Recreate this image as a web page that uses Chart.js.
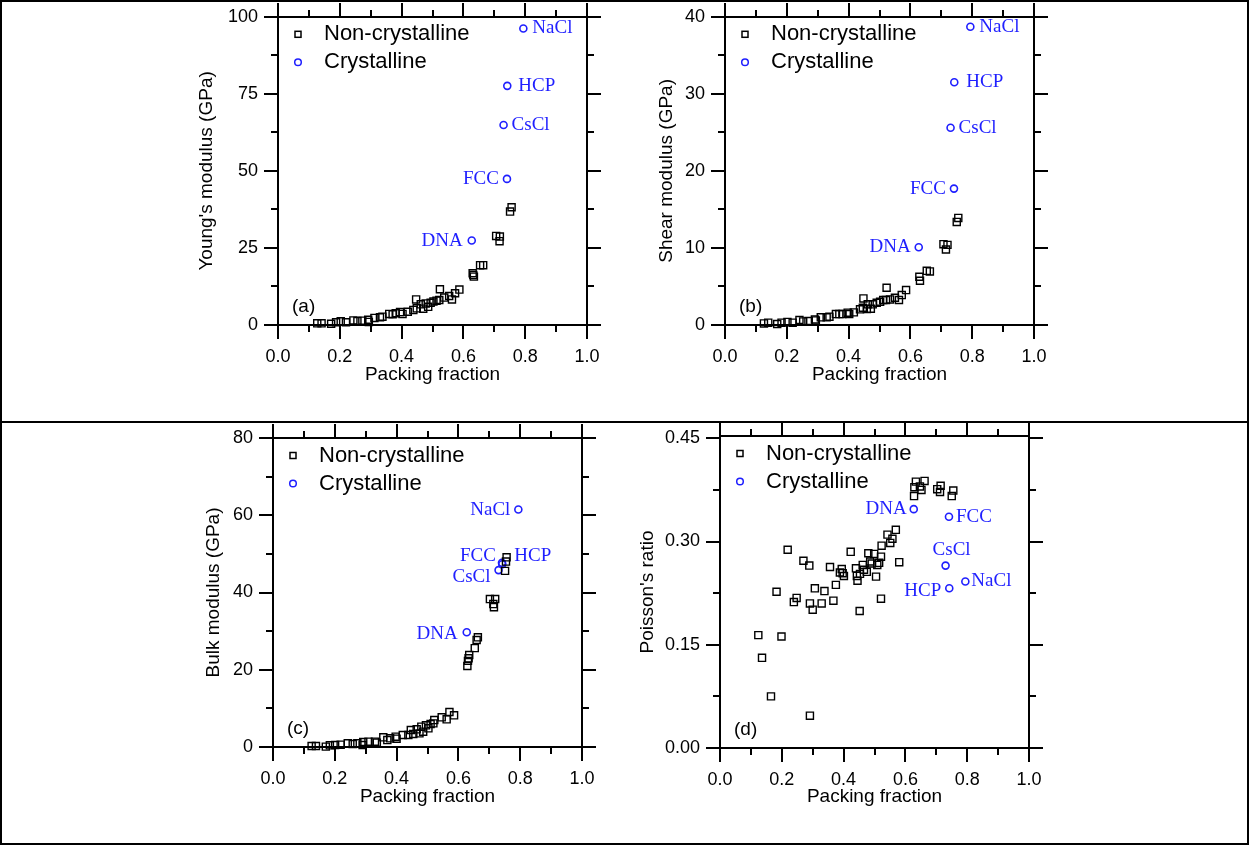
<!DOCTYPE html>
<html>
<head>
<meta charset="utf-8">
<title>Elastic moduli vs packing fraction</title>
<script src="https://cdn.jsdelivr.net/npm/chart.js@4.4.1/dist/chart.umd.min.js"></script>
<style>
  html, body { margin: 0; background: #fff; }
  #figure { position: relative; width: 1249px; height: 845px; overflow: hidden; }
  #figure canvas { position: absolute; left: 0; top: 0; }
  .frame { position: absolute; left: 0; top: 0; width: 1249px; height: 845px; box-sizing: border-box; border: 2px solid #000; pointer-events: none; }
  .divider { position: absolute; left: 0; width: 1249px; top: 421px; height: 2px; background: #000; }
</style>
</head>
<body>
<div id="figure">
  <canvas id="young" width="1249" height="845"></canvas>
  <canvas id="shear" width="1249" height="845"></canvas>
  <canvas id="bulk" width="1249" height="845"></canvas>
  <canvas id="poisson" width="1249" height="845"></canvas>
  <div class="divider"></div>
  <div class="frame"></div>
</div>
<script>
const SANS = "'Liberation Sans', Arial, Helvetica, sans-serif";
const SERIF = "'Liberation Serif', 'Times New Roman', serif";
const BLUE = '#1f1fff';
const AXIS_W = 2;

// Crystalline structures (same packing fraction in every panel)
const crystalNames = ['DNA', 'FCC', 'HCP', 'CsCl', 'NaCl'];
const crystalPacking = [0.627, 0.741, 0.742, 0.730, 0.794];
const crystalYoung = [27.4, 47.4, 77.6, 64.9, 96.2];
const crystalShear = [10.1, 17.7, 31.5, 25.6, 38.7];
const crystalBulk = [29.7, 47.7, 47.3, 45.8, 61.5];
const crystalPoisson = [0.347, 0.336, 0.232, 0.265, 0.242];

// Non-crystalline packings
const youngPacking = [0.127, 0.141, 0.172, 0.188, 0.203, 0.220, 0.244, 0.257, 0.273, 0.292, 0.294, 0.312, 0.330, 0.338,
  0.360, 0.371, 0.381, 0.395, 0.403, 0.420, 0.438, 0.449, 0.447, 0.462, 0.470, 0.478, 0.486, 0.494, 0.503, 0.513,
  0.522, 0.524, 0.538, 0.554, 0.563, 0.573, 0.587, 0.630, 0.634, 0.632, 0.654, 0.664, 0.706, 0.717, 0.718, 0.751, 0.756];
const youngValues = [0.55, 0.55, 0.4, 0.9, 1.2, 0.9, 1.5, 1.3, 1.4, 1.7, 1.0, 2.3, 2.5, 2.7,
  3.6, 3.5, 3.8, 4.2, 3.6, 4.3, 4.9, 5.4, 8.3, 6.7, 5.3, 7.0, 5.9, 7.2, 7.6, 7.9,
  8.1, 11.6, 8.9, 9.4, 8.3, 10.3, 11.5, 16.8, 15.7, 16.2, 19.4, 19.4, 28.9, 27.2, 28.7, 36.8, 38.2];

const shearPacking = [0.126, 0.140, 0.169, 0.183, 0.202, 0.219, 0.241, 0.253, 0.270, 0.291, 0.294, 0.310, 0.329, 0.338,
  0.359, 0.370, 0.380, 0.397, 0.402, 0.417, 0.437, 0.448, 0.446, 0.459, 0.462, 0.472, 0.478, 0.491, 0.502, 0.512,
  0.521, 0.523, 0.534, 0.550, 0.563, 0.572, 0.586, 0.629, 0.631, 0.653, 0.663, 0.707, 0.715, 0.720, 0.750, 0.755];
const shearValues = [0.2, 0.3, 0.13, 0.3, 0.4, 0.3, 0.65, 0.47, 0.52, 0.73, 0.6, 1.0, 1.0, 1.08,
  1.42, 1.42, 1.42, 1.6, 1.42, 1.64, 2.03, 3.45, 2.24, 2.07, 2.68, 2.11, 2.68, 2.89, 3.02, 3.24,
  3.24, 4.83, 3.32, 3.54, 3.24, 3.88, 4.53, 6.26, 5.74, 7.03, 6.95, 10.49, 9.8, 10.4, 13.38, 13.9];

const bulkPacking = [0.125, 0.139, 0.171, 0.184, 0.201, 0.219, 0.242, 0.258, 0.273, 0.290, 0.292, 0.309, 0.330, 0.336,
  0.357, 0.370, 0.379, 0.397, 0.400, 0.420, 0.438, 0.446, 0.454, 0.465, 0.474, 0.480, 0.486, 0.495, 0.503, 0.510,
  0.519, 0.522, 0.546, 0.562, 0.571, 0.586, 0.629, 0.631, 0.633, 0.635, 0.653, 0.659, 0.663, 0.702, 0.713, 0.715,
  0.719, 0.756, 0.754, 0.751];
const bulkValues = [0.26, 0.26, 0.1, 0.43, 0.52, 0.6, 0.95, 0.78, 0.95, 0.52, 1.3, 1.38, 1.38, 1.12,
  2.5, 1.8, 2.24, 2.67, 2.16, 3.1, 3.1, 4.4, 3.36, 4.57, 3.53, 5.26, 3.97, 5.61, 4.83, 5.95,
  6.12, 6.98, 7.68, 7.16, 9.06, 8.2, 20.97, 22.3, 22.95, 23.8, 25.6, 27.7, 28.4, 38.3, 37.0, 36.2,
  38.3, 49.1, 48.0, 45.6];

const poissonPacking = [0.124, 0.136, 0.165, 0.199, 0.183, 0.219, 0.239, 0.248, 0.270, 0.289, 0.291, 0.300, 0.291,
  0.307, 0.329, 0.338, 0.356, 0.367, 0.375, 0.388, 0.394, 0.401, 0.397, 0.423, 0.440, 0.443, 0.445, 0.452,
  0.453, 0.462, 0.466, 0.475, 0.480, 0.486, 0.491, 0.499, 0.505, 0.509, 0.515, 0.521, 0.521, 0.523, 0.542,
  0.551, 0.558, 0.569, 0.580, 0.628, 0.629, 0.634, 0.647, 0.652, 0.662, 0.703, 0.714, 0.712, 0.750, 0.755];
const poissonValues = [0.164, 0.131, 0.075, 0.162, 0.227, 0.288, 0.212, 0.218, 0.272, 0.265, 0.210, 0.201, 0.047,
  0.232, 0.210, 0.228, 0.263, 0.214, 0.237, 0.255, 0.260, 0.250, 0.254, 0.285, 0.261, 0.250, 0.243, 0.199,
  0.253, 0.266, 0.259, 0.256, 0.283, 0.271, 0.268, 0.282, 0.249, 0.266, 0.269, 0.278, 0.217, 0.294, 0.310,
  0.298, 0.304, 0.317, 0.270, 0.366, 0.379, 0.387, 0.380, 0.375, 0.388, 0.376, 0.381, 0.372, 0.366, 0.374];

const xTicks = { min: 0, max: 1, step: 0.2, minor: 0.1 };

// where each crystal name sits relative to its marker (DNA, FCC, HCP, CsCl, NaCl)
const L = (dx, dy = 0) => ({ align: 'right', dx, dy });
const R = (dx, dy = 0) => ({ align: 'left', dx, dy });

const panels = [
  {
    id: 'young', letter: '(a)', title: "Young's modulus (GPa)",
    packing: youngPacking, values: youngValues, crystal: crystalYoung,
    yMax: 100, yStep: 25, yMinor: 12.5, digits: 0,
    area: { left: 278, top: 16, right: 587, bottom: 325 }, titleX: 207, titleY: 375,
    names: [L(-9), L(-8), R(11), R(8), R(9)]
  },
  {
    id: 'shear', letter: '(b)', title: 'Shear modulus (GPa)',
    packing: shearPacking, values: shearValues, crystal: crystalShear,
    yMax: 40, yStep: 10, yMinor: 5, digits: 0,
    area: { left: 725, top: 16, right: 1034, bottom: 325 }, titleX: 667, titleY: 375,
    names: [L(-8), L(-8), R(12), R(8), R(9)]
  },
  {
    id: 'bulk', letter: '(c)', title: 'Bulk modulus (GPa)',
    packing: bulkPacking, values: bulkValues, crystal: crystalBulk,
    yMax: 80, yStep: 20, yMinor: 10, digits: 0,
    area: { left: 273, top: 438, right: 582, bottom: 747 }, titleX: 214, titleY: 797,
    names: [L(-9, 2), L(-6, -7), R(12, -8), L(-8, 7), L(-8, 1)]
  },
  {
    id: 'poisson', letter: '(d)', title: "Poisson's ratio",
    packing: poissonPacking, values: poissonValues, crystal: crystalPoisson,
    yMax: 0.4533, yStep: 0.15, yMinor: 0.075, digits: 2,
    area: { left: 720, top: 436, right: 1029, bottom: 748 }, titleX: 648, titleY: 797,
    names: [L(-7), R(7), L(-8, 3), { align: 'center', dx: 6, dy: -16 }, R(6)]
  }
];

const isMajor = (v, step) => Math.abs(v / step - Math.round(v / step)) < 1e-6;

// top/right spines, every tick on top and right, minor ticks on bottom and left
function framePlugin(p) {
  return {
    id: 'frame',
    afterDraw(chart) {
      const { ctx, chartArea: a } = chart;
      const x = chart.scales.x;
      const y = chart.scales.y;
      const top = Math.round(a.top);
      const right = Math.round(a.right);
      const bottom = Math.round(a.bottom);
      const left = Math.round(a.left);
      ctx.save();
      ctx.fillStyle = '#000';
      // spines as filled bars so they stay crisp
      ctx.fillRect(left - 1, top - 1, right - left + 2, AXIS_W);
      ctx.fillRect(right - 1, top - 1, AXIS_W, bottom - top + 2);

      const nx = Math.round((xTicks.max - xTicks.min) / xTicks.minor);
      for (let i = 0; i <= nx; i++) {
        const v = xTicks.min + i * xTicks.minor;
        const px = Math.round(x.getPixelForValue(v));
        const major = isMajor(v, xTicks.step);
        const len = major ? 14 : 7;
        ctx.fillRect(px - 1, top - len, AXIS_W, len);
        if (!major) ctx.fillRect(px - 1, bottom, AXIS_W, len);
      }
      const ny = Math.floor(p.yMax / p.yMinor + 1e-6);
      for (let i = 0; i <= ny; i++) {
        const v = i * p.yMinor;
        const py = Math.round(y.getPixelForValue(v));
        const major = isMajor(v, p.yStep);
        const len = major ? 14 : 7;
        ctx.fillRect(right, py - 1, len, AXIS_W);
        if (!major) ctx.fillRect(left - len, py - 1, len, AXIS_W);
      }
      ctx.restore();
    }
  };
}

// names next to the crystalline markers, legend and panel letter
function annotatePlugin(p) {
  return {
    id: 'annotate',
    afterDraw(chart) {
      const { ctx, chartArea: a } = chart;
      ctx.save();
      const pts = chart.getDatasetMeta(1).data;
      ctx.fillStyle = BLUE;
      ctx.font = '19px ' + SERIF;
      ctx.textBaseline = 'middle';
      pts.forEach((pt, i) => {
        const place = p.names[i];
        ctx.textAlign = place.align;
        ctx.fillText(crystalNames[i], pt.x + place.dx, pt.y + place.dy);
      });

      // legend
      const mx = a.left + 20;
      const rows = [a.top + 17.5, a.top + 45.5];
      ctx.lineWidth = 1.5;
      ctx.strokeStyle = '#000';
      ctx.strokeRect(mx - 3, rows[0] - 3, 6, 6);
      ctx.strokeStyle = BLUE;
      ctx.beginPath();
      ctx.arc(mx, rows[1], 3.3, 0, Math.PI * 2);
      ctx.stroke();
      ctx.fillStyle = '#000';
      ctx.textAlign = 'left';
      ctx.font = '22px ' + SANS;
      chart.data.datasets.forEach((ds, i) => ctx.fillText(ds.label, a.left + 46, rows[i]));

      ctx.font = '19px ' + SANS;
      ctx.fillText(p.letter, a.left + 14, a.bottom - 18);
      ctx.restore();
    }
  };
}

function makePanel(p) {
  const yWidth = p.area.left - (p.titleX - 11.4);
  const xHeight = p.titleY + 11.4 - p.area.bottom;
  return new Chart(document.getElementById(p.id), {
    type: 'scatter',
    data: {
      datasets: [
        {
          label: 'Non-crystalline',
          data: p.packing.map((v, i) => ({ x: v, y: p.values[i] })),
          pointStyle: 'rect',
          pointRadius: 5,
          borderWidth: 1.4,
          borderColor: '#000',
          backgroundColor: 'rgba(0,0,0,0)',
          clip: false
        },
        {
          label: 'Crystalline',
          data: crystalPacking.map((v, i) => ({ x: v, y: p.crystal[i] })),
          pointStyle: 'circle',
          pointRadius: 3.5,
          borderWidth: 1.6,
          borderColor: BLUE,
          backgroundColor: 'rgba(0,0,0,0)',
          clip: false
        }
      ]
    },
    options: {
      responsive: false,
      devicePixelRatio: 1,
      animation: false,
      events: [],
      layout: {
        autoPadding: false,
        padding: {
          left: p.area.left - yWidth,
          top: p.area.top,
          right: 1249 - p.area.right,
          bottom: 845 - p.area.bottom - xHeight
        }
      },
      plugins: {
        legend: { display: false },
        tooltip: { enabled: false }
      },
      scales: {
        x: {
          type: 'linear',
          min: xTicks.min,
          max: xTicks.max,
          afterFit(scale) { scale.height = xHeight; },
          ticks: {
            stepSize: xTicks.step,
            padding: 7,
            color: '#000',
            font: { family: SANS, size: 18 },
            callback: v => v.toFixed(1)
          },
          grid: { drawOnChartArea: false, drawTicks: true, tickLength: 14, color: '#000', lineWidth: AXIS_W },
          border: { display: true, color: '#000', width: AXIS_W },
          title: { display: true, text: 'Packing fraction', color: '#000', padding: 0, font: { family: SANS, size: 19 } }
        },
        y: {
          type: 'linear',
          min: 0,
          max: p.yMax,
          afterFit(scale) { scale.width = yWidth; },
          ticks: {
            stepSize: p.yStep,
            includeBounds: false,
            padding: 6,
            color: '#000',
            font: { family: SANS, size: 18 },
            callback: v => v.toFixed(p.digits)
          },
          grid: { drawOnChartArea: false, drawTicks: true, tickLength: 14, color: '#000', lineWidth: AXIS_W },
          border: { display: true, color: '#000', width: AXIS_W },
          title: { display: true, text: p.title, color: '#000', padding: 0, font: { family: SANS, size: 19 } }
        }
      }
    },
    plugins: [framePlugin(p), annotatePlugin(p)]
  });
}

panels.forEach(makePanel);
</script>
</body>
</html>
